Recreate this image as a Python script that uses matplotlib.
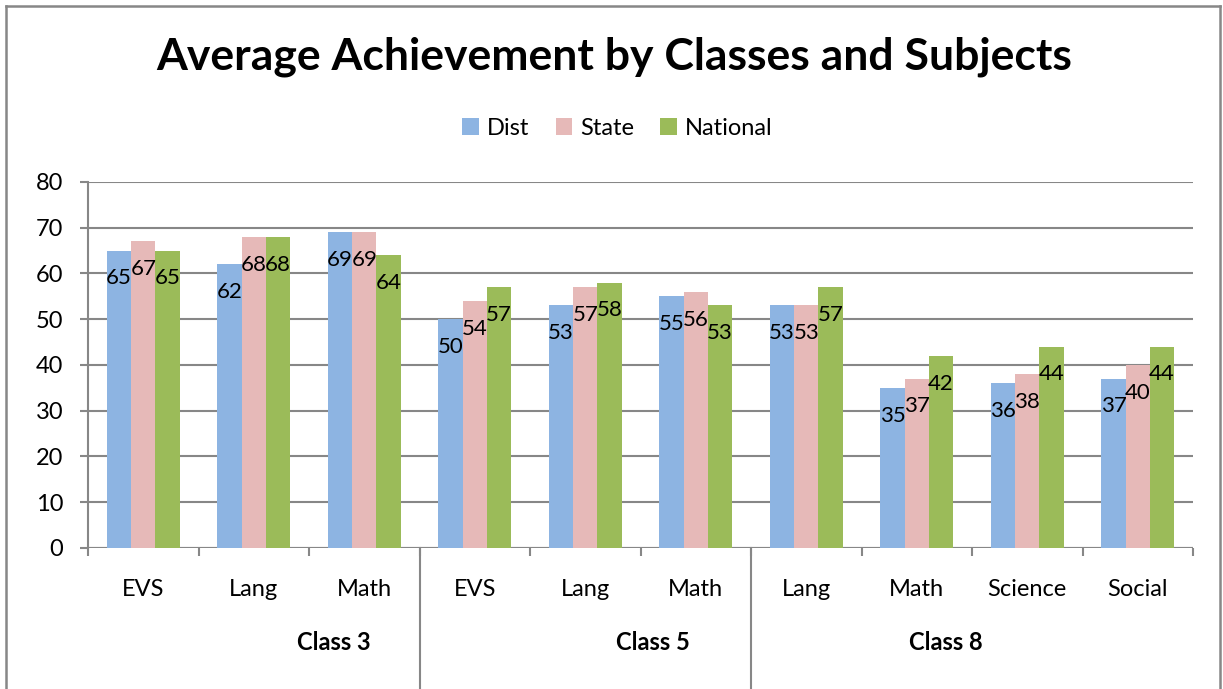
import matplotlib

matplotlib.use("Agg")
import matplotlib.pyplot as plt  # noqa: E402
import numpy as np  # noqa: E402
from matplotlib.lines import Line2D  # noqa: E402
from matplotlib.transforms import blended_transform_factory  # noqa: E402

plt.rcParams["font.family"] = ["Lato", "DejaVu Sans"]

subjects = ["EVS", "Lang", "Math", "EVS", "Lang", "Math",
            "Lang", "Math", "Science", "Social"]
classes = ["Class 3", "Class 5", "Class 8"]
class_sizes = [3, 3, 4]
series = ["Dist", "State", "National"]
dist = [65, 62, 69, 50, 53, 55, 53, 35, 36, 37]
state = [67, 68, 69, 54, 57, 56, 53, 37, 38, 40]
national = [65, 68, 64, 57, 58, 53, 57, 42, 44, 44]

colors = ["#8DB4E2", "#E6B9B8", "#9BBB59"]
grid_gray = "#878787"
# where the class captions sit along the category axis
class_label_x = [1.72, 4.61, 7.26]

fig = plt.figure(figsize=(12.23, 6.89), dpi=100)
ax = fig.add_axes([0.0720, 0.2047, 0.9035, 0.5312])

x = np.arange(len(subjects))
width = 0.22
for i, (name, vals) in enumerate(zip(series, [dist, state, national])):
    pos = x + (i - 1) * width
    ax.bar(pos, vals, width, color=colors[i], label=name, zorder=3)
    for px, v in zip(pos, vals):
        ax.annotate(str(v), (px, v), xytext=(0, -20), textcoords="offset points",
                    ha="center", va="center", fontsize=16, color="black", zorder=4)

ax.set_xlim(-0.5, len(subjects) - 0.5)
ax.set_ylim(0, 80)
ax.set_yticks(range(0, 81, 10))
ax.yaxis.grid(True, color=grid_gray, linewidth=1.5, zorder=0)
for side in ["top", "right", "bottom"]:
    ax.spines[side].set_visible(False)
ax.spines["left"].set_color(grid_gray)
ax.spines["left"].set_linewidth(1.5)
ax.axhline(0, color=grid_gray, linewidth=1.5, zorder=2)
ax.tick_params(axis="y", length=6, width=1.5, color=grid_gray,
               labelsize=17, pad=12)

# category boundary ticks, subject names between them
ax.set_xticks(np.arange(-0.5, len(subjects), 1.0))
ax.set_xticklabels([])
ax.tick_params(axis="x", which="major", length=6, width=1.5, color=grid_gray)
ax.set_xticks(x, minor=True)
ax.set_xticklabels(subjects, minor=True, fontsize=17)
ax.tick_params(axis="x", which="minor", length=0, pad=22)

trans = blended_transform_factory(ax.transData, ax.transAxes)
edges = np.cumsum(class_sizes)[:-1] - 0.5
for e in edges:
    ax.plot([e, e], [0, -0.5], color=grid_gray, linewidth=1.5,
            transform=trans, clip_on=False)
for cx, name in zip(class_label_x, classes):
    ax.text(cx, -0.258, name, transform=trans, ha="center", va="center",
            fontsize=17, fontweight="bold")

fig.text(0.502, 0.917, "Average Achievement by Classes and Subjects",
         ha="center", va="center", fontsize=32, fontweight="bold")
fig.legend(loc="center", bbox_to_anchor=(0.505, 0.814), ncol=3, frameon=False,
           fontsize=17, handlelength=0.7, handleheight=0.7,
           handletextpad=0.35, columnspacing=1.1)

# chart frame
for xs, ys in [([0.005, 0.005], [0.992, -0.1]),
               ([0.005, 0.9975], [0.992, 0.992]),
               ([0.9975, 0.9975], [0.992, -0.1])]:
    fig.add_artist(Line2D(xs, ys, color=grid_gray, linewidth=1.8,
                          transform=fig.transFigure))

fig.savefig("out.png", dpi=100)
